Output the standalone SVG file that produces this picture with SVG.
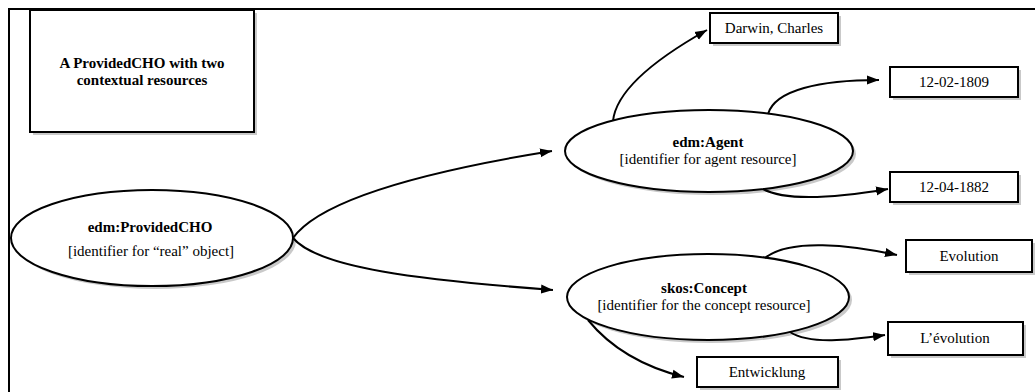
<svg xmlns="http://www.w3.org/2000/svg" width="1035" height="392" viewBox="0 0 1035 392">
<defs>
<marker id="arr" markerUnits="userSpaceOnUse" markerWidth="13" markerHeight="10" refX="12" refY="5" orient="auto">
<path d="M0,0.5 L12,5 L0,9.5 z" fill="#000"/>
</marker>
<style>
.sh{fill:#c9c9c9;stroke:none}
.bx{fill:#fff;stroke:#000;stroke-width:2}
.el{fill:#fff;stroke:#000;stroke-width:2}
.t{font-family:"Liberation Serif",serif;font-size:15px;fill:#000;text-anchor:middle}
.b{font-weight:bold}
.c{fill:none;stroke:#000;stroke-width:2;marker-end:url(#arr)}
</style>
</defs>
<rect width="1035" height="392" fill="#fff"/>
<path d="M9,392 L9,9 L1035,9" fill="none" stroke="#000" stroke-width="2"/>

<g id="title">
<rect class="sh" x="33" y="13" width="224" height="122"/>
<rect class="bx" x="30" y="10" width="224" height="122"/>
<text class="t b" x="142" y="68">A ProvidedCHO with two</text>
<text class="t b" x="142" y="85">contextual resources</text>
</g>

<g id="providedcho">
<ellipse class="sh" cx="155" cy="241" rx="141" ry="48"/>
<ellipse class="el" cx="152" cy="238" rx="141" ry="48"/>
<text class="t b" x="150" y="232">edm:ProvidedCHO</text>
<text class="t" x="151" y="256">[identifier for “real” object]</text>
</g>

<g id="agent">
<ellipse class="sh" cx="712" cy="154" rx="144" ry="41"/>
<ellipse class="el" cx="709" cy="151" rx="144" ry="41"/>
<text class="t b" x="708" y="147">edm:Agent</text>
<text class="t" x="708" y="164">[identifier for agent resource]</text>
</g>

<g id="concept">
<ellipse class="sh" cx="711" cy="300" rx="141" ry="43"/>
<ellipse class="el" cx="708" cy="297" rx="141" ry="43"/>
<text class="t b" x="704" y="293">skos:Concept</text>
<text class="t" x="704" y="310">[identifier for the concept resource]</text>
</g>

<g id="darwin">
<rect class="sh" x="713" y="16" width="128" height="30"/>
<rect class="bx" x="710" y="13" width="128" height="30"/>
<text class="t" x="774" y="33">Darwin, Charles</text>
</g>

<g id="birth">
<rect class="sh" x="893" y="70" width="128" height="30"/>
<rect class="bx" x="890" y="67" width="128" height="30"/>
<text class="t" x="954" y="87">12-02-1809</text>
</g>

<g id="death">
<rect class="sh" x="893" y="175" width="128" height="30"/>
<rect class="bx" x="890" y="172" width="128" height="30"/>
<text class="t" x="954" y="192">12-04-1882</text>
</g>

<g id="evolution-en">
<rect class="sh" x="909" y="243" width="126" height="32"/>
<rect class="bx" x="906" y="240" width="126" height="32"/>
<text class="t" x="969" y="261">Evolution</text>
</g>

<g id="evolution-fr">
<rect class="sh" x="891" y="325" width="135" height="33"/>
<rect class="bx" x="888" y="322" width="135" height="33"/>
<text class="t" x="955" y="343">L’évolution</text>
</g>

<g id="entwicklung">
<rect class="sh" x="700" y="360" width="141" height="30"/>
<rect class="bx" x="697" y="357" width="141" height="30"/>
<text class="t" x="767" y="377">Entwicklung</text>
</g>

<g id="connectors">
<path class="c" d="M293,238 C318,203 410,174 552,151"/>
<path class="c" d="M293,238 C318,268 420,280 553,290"/>
<path class="c" d="M613,121 C616,92 650,62 707,30"/>
<path class="c" d="M768,114 C775,90 820,80 879,80"/>
<path class="c" d="M763,189 C785,201 835,198 888,189"/>
<path class="c" d="M765,258 C790,238 850,245 897,255"/>
<path class="c" d="M790,332 C810,345 850,340 885,335"/>
<path class="c" d="M588,320 C610,347 640,366 684,377"/>
</g>
</svg>
